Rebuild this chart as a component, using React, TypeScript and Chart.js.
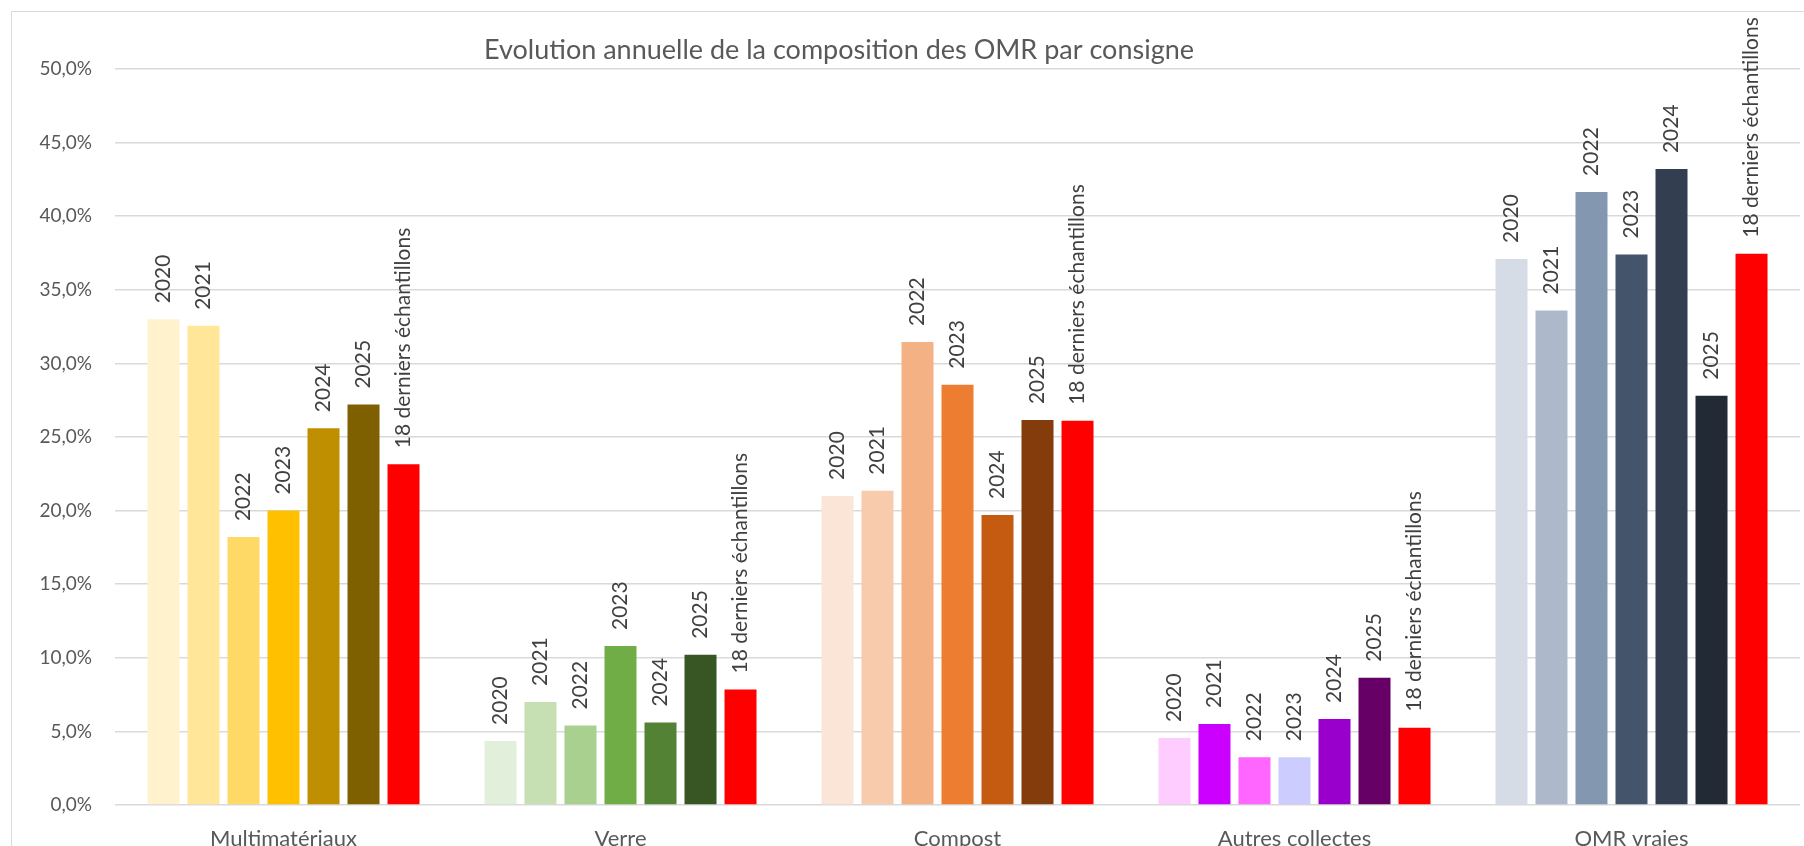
import React, { useEffect, useRef } from "react";
import { Chart, registerables } from "chart.js";

Chart.register(...registerables);

const TITLE = "Evolution annuelle de la composition des OMR par consigne";
const categories = ["Multimatériaux", "Verre", "Compost", "Autres collectes", "OMR vraies"];
const seriesLabels = ["2020", "2021", "2022", "2023", "2024", "2025", "18 derniers échantillons"];

const values2020 = [33.0, 4.35, 21.0, 4.55, 37.1];
const values2021 = [32.55, 7.0, 21.35, 5.5, 33.6];
const values2022 = [18.2, 5.4, 31.45, 3.25, 41.65];
const values2023 = [20.0, 10.8, 28.55, 3.25, 37.4];
const values2024 = [25.6, 5.6, 19.7, 5.85, 43.2];
const values2025 = [27.2, 10.2, 26.15, 8.65, 27.8];
const values18 = [23.15, 7.85, 26.1, 5.25, 37.45];

const colors2020 = ["#FFF2CC", "#E2EFDA", "#FBE5D6", "#FFCCFF", "#D6DCE5"];
const colors2021 = ["#FFE699", "#C6E0B4", "#F8CBAD", "#CC00FF", "#ADB9CA"];
const colors2022 = ["#FFD966", "#A9D08E", "#F4B183", "#FF66FF", "#8497B0"];
const colors2023 = ["#FFC000", "#70AD47", "#ED7D31", "#CCCCFF", "#44546A"];
const colors2024 = ["#BF8F00", "#548235", "#C55A11", "#9900CC", "#333F50"];
const colors2025 = ["#7F6000", "#375623", "#843C0C", "#660066", "#222A35"];
const colors18 = ["#FF0000", "#FF0000", "#FF0000", "#FF0000", "#FF0000"];

const yTicks = [0, 5, 10, 15, 20, 25, 30, 35, 40, 45, 50];

const FONT = "Lato, 'Noto Sans', sans-serif";

const frameTitlePlugin = {
  id: "frameTitle",
  beforeDraw(chart: any) {
    const { ctx, width, height } = chart;
    ctx.save();
    ctx.fillStyle = "#FFFFFF";
    ctx.fillRect(0, 0, width, height);
    ctx.strokeStyle = "#D9D9D9";
    ctx.lineWidth = 1;
    ctx.beginPath();
    ctx.moveTo(11.5, height);
    ctx.lineTo(11.5, 11.5);
    ctx.lineTo(width, 11.5);
    ctx.stroke();
    ctx.restore();
  },
  afterDraw(chart: any) {
    const { ctx } = chart;
    ctx.save();
    ctx.fillStyle = "#595959";
    ctx.font = `27px ${FONT}`;
    ctx.textAlign = "center";
    ctx.textBaseline = "alphabetic";
    ctx.fillText(TITLE, 839, 59);
    ctx.restore();
  },
};

const barLabelPlugin = {
  id: "barLabels",
  afterDatasetsDraw(chart: any) {
    const { ctx } = chart;
    ctx.save();
    ctx.fillStyle = "#404040";
    ctx.font = `21px ${FONT}`;
    ctx.textAlign = "left";
    ctx.textBaseline = "middle";
    chart.data.datasets.forEach((ds: any, di: number) => {
      const meta = chart.getDatasetMeta(di);
      meta.data.forEach((el: any) => {
        ctx.save();
        ctx.translate(el.x, el.y - 16);
        ctx.rotate(-Math.PI / 2);
        ctx.fillText(ds.label, 0, 0);
        ctx.restore();
      });
    });
    ctx.restore();
  },
};

export default function App() {
  const ref = useRef<HTMLCanvasElement | null>(null);

  useEffect(() => {
    if (!ref.current) return;
    const valueSets = [values2020, values2021, values2022, values2023, values2024, values2025, values18];
    const colorSets = [colors2020, colors2021, colors2022, colors2023, colors2024, colors2025, colors18];
    const chart = new Chart(ref.current, {
      type: "bar",
      data: {
        labels: categories,
        datasets: seriesLabels.map((label, i) => ({
          label,
          data: valueSets[i],
          backgroundColor: colorSets[i],
          borderWidth: 0,
          categoryPercentage: 0.831,
          barPercentage: 0.8,
        })),
      },
      options: {
        animation: false,
        responsive: false,
        maintainAspectRatio: false,
        layout: { padding: { left: 0, right: 4, top: 69, bottom: 0 } },
        plugins: {
          legend: { display: false },
          title: { display: false },
          tooltip: { enabled: false },
        },
        scales: {
          x: {
            grid: { display: false, drawTicks: false },
            border: { display: false },
            ticks: {
              color: "#595959",
              font: { family: FONT, size: 22 },
              padding: 21,
            },
            afterFit(scale: any) {
              scale.height = 41;
            },
          },
          y: {
            min: 0,
            max: 50,
            afterBuildTicks(scale: any) {
              scale.ticks = yTicks.map((v) => ({ value: v }));
            },
            grid: { color: "#D9D9D9", lineWidth: 1.5, drawTicks: false },
            border: { display: false },
            ticks: {
              color: "#595959",
              font: { family: FONT, size: 19 },
              padding: 23,
              callback: (v: any) => Number(v).toFixed(1).replace(".", ",") + "%",
            },
            afterFit(scale: any) {
              scale.width = 115;
            },
          },
        },
      },
      plugins: [frameTitlePlugin, barLabelPlugin],
    });
    return () => chart.destroy();
  }, []);

  return (
    <div style={{ position: "fixed", left: 0, top: 0, width: 1804, height: 846, background: "#fff" }}>
      <canvas ref={ref} width={1804} height={846} style={{ display: "block", width: 1804, height: 846 }} />
    </div>
  );
}
